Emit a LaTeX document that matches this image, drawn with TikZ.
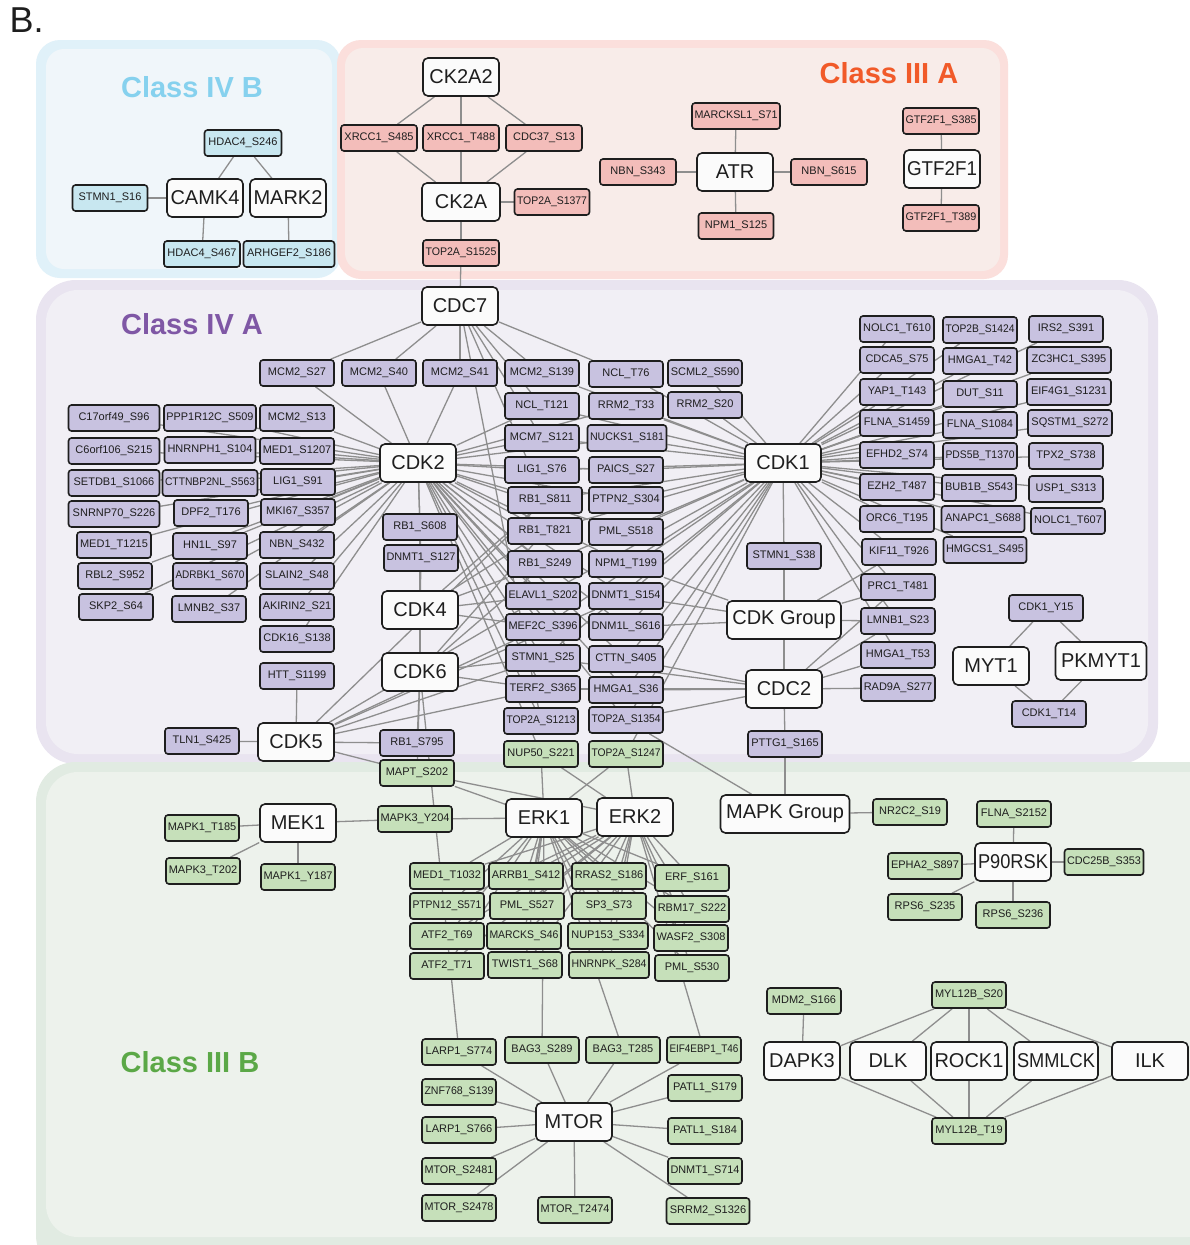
\documentclass[tikz,border=0pt]{standalone}
\usepackage{fontspec}
\setmainfont{Liberation Sans}
\usepackage{graphicx}
\definecolor{bord}{HTML}{1E1E1E}
\definecolor{edgec}{HTML}{8E8E8E}
\definecolor{cB}{HTML}{C8E7F0}
\definecolor{cP}{HTML}{F3BDBA}
\definecolor{cL}{HTML}{C8C2E0}
\definecolor{cG}{HTML}{C6E0BA}
\definecolor{kfill}{HTML}{FBFBFB}
\definecolor{bO}{HTML}{E0F1F9}\definecolor{bI}{HTML}{F0F6FA}
\definecolor{pO}{HTML}{FBDFDC}\definecolor{pI}{HTML}{F8ECE9}
\definecolor{lO}{HTML}{E9E4F0}\definecolor{lI}{HTML}{F1EFF5}
\definecolor{gO}{HTML}{E1EBE2}\definecolor{gI}{HTML}{EDF2EC}
\definecolor{tB}{HTML}{86D1EE}\definecolor{tP}{HTML}{F15A29}
\definecolor{tL}{HTML}{7F57A5}\definecolor{tG}{HTML}{5BA847}
\newsavebox\fitbox
\newlength\fitw
\newcommand\fit[2]{\fitw=\dimexpr#1\relax\sbox\fitbox{#2}\ifdim\wd\fitbox>\fitw\resizebox{\fitw}{\height}{\usebox\fitbox}\else\usebox\fitbox\fi}
\newcommand\sn[5][74]{\node[sub,fill=#2,minimum width=#1pt] (#3) at (#4,#5) {\fit{#1pt-5pt}{\detokenize{#3}}};}
\newcommand\kn[5][76]{\node[kin,minimum width=#1pt] (#2) at (#3,#4) {\fit{#1pt-6pt}{#5}};}
\pgfdeclarelayer{bg}\pgfdeclarelayer{edges}
\pgfsetlayers{bg,edges,main}
\tikzset{
 sub/.style={draw=bord,line width=1.6pt,rounded corners=3pt,minimum height=26pt,inner sep=0pt,font=\fontsize{11}{12}\selectfont,text=bord},
 kin/.style={draw=bord,fill=kfill,line width=1.6pt,rounded corners=5pt,minimum height=38pt,inner sep=0pt,font=\fontsize{20}{22}\selectfont,text=bord},
 edge/.style={draw=edgec,line width=1.3pt},
 cls/.style={font=\bfseries\fontsize{29}{30}\selectfont}
}
\begin{document}
\begin{tikzpicture}[x=1pt,y=-1pt]
\useasboundingbox (0,0) rectangle (1189,1245);
\clip (0,0) rectangle (1189,1245);
\begin{pgfonlayer}{bg}
\fill[white] (0,0) rectangle (1189,1245);
\fill[lO,rounded corners=40pt] (36,280) rectangle (1158,764);
\fill[lI,rounded corners=32pt] (46,290) rectangle (1148,754);
\fill[gO,rounded corners=40pt] (36,762) rectangle (1230,1275);
\fill[gI,rounded corners=32pt] (46,772) rectangle (1220,1237);
\fill[bO,rounded corners=24pt] (36,40) rectangle (341,278);
\fill[bI,rounded corners=18pt] (46,49) rectangle (332,269);
\fill[pO,rounded corners=24pt] (337,40) rectangle (1008,279);
\fill[pI,rounded corners=18pt] (345,48) rectangle (1000,271);
\end{pgfonlayer}
\node[anchor=west,text=bord,font=\fontsize{36}{36}\selectfont] (title) at (6,20) {B.};
\node[cls,text=tB] (lblIVB) at (192,87) {Class IV B};
\node[cls,text=tP] (lblIIIA) at (889,73) {Class III A};
\node[cls,text=tL] (lblIVA) at (192,324) {Class IV A};
\node[cls,text=tG] (lblIIIB) at (190,1062) {Class III B};
% kinases
\kn{CK2A2}{461}{77}{CK2A2}
\kn[78]{CK2A}{461}{202}{CK2A}
\kn{ATR}{735}{172}{ATR}
\kn{GTF2F1}{942}{169}{GTF2F1}
\kn{CAMK4}{205}{198}{CAMK4}
\kn{MARK2}{288}{198}{MARK2}
\kn{CDC7}{460}{306}{CDC7}
\kn{CDK2}{418}{463}{CDK2}
\kn{CDK1}{783}{463}{CDK1}
\kn{CDK4}{420}{610}{CDK4}
\kn{CDK6}{420}{672}{CDK6}
\kn{CDK5}{296}{742}{CDK5}
\kn[114]{CDKG}{784}{620}{CDK Group}
\kn{CDC2}{784}{689}{CDC2}
\kn{MYT1}{991}{666}{MYT1}
\kn[91]{PKMYT1}{1101}{661}{PKMYT1}
\kn{MEK1}{298}{823}{MEK1}
\kn{ERK1}{544}{818}{ERK1}
\kn{ERK2}{635}{817}{ERK2}
\kn[129]{MAPKG}{785}{814}{MAPK Group}
\kn{P90RSK}{1013}{862}{P90RSK}
\kn{MTOR}{574}{1122}{MTOR}
\kn{DAPK3}{802}{1061}{DAPK3}
\kn{DLK}{888}{1061}{DLK}
\kn{ROCK1}{969}{1061}{ROCK1}
\kn[84]{SMMLCK}{1056}{1061}{SMMLCK}
\kn{ILK}{1150}{1061}{ILK}
% class IV B
\sn[77]{cB}{HDAC4_S246}{243}{143}
\sn[75]{cB}{STMN1_S16}{110}{198}
\sn[76]{cB}{HDAC4_S467}{202}{254}
\sn[91]{cB}{ARHGEF2_S186}{289}{254}
% class III A
\sn[76]{cP}{XRCC1_S485}{379}{138}
\sn[76]{cP}{XRCC1_T488}{461}{138}
\sn[76]{cP}{CDC37_S13}{544}{138}
\sn[75]{cP}{TOP2A_S1377}{552}{202}
\sn[76]{cP}{TOP2A_S1525}{461}{253}
\sn[88]{cP}{MARCKSL1_S71}{736}{116}
\sn[76]{cP}{NBN_S343}{638}{172}
\sn[76]{cP}{NBN_S615}{829}{172}
\sn[75]{cP}{NPM1_S125}{736}{226}
\sn[76]{cP}{GTF2F1_S385}{941}{121}
\sn[76]{cP}{GTF2F1_T389}{941}{218}
% class IV A middle
\sn{cL}{MCM2_S27}{297}{373}
\sn{cL}{MCM2_S40}{379}{373}
\sn{cL}{MCM2_S41}{460}{373}
\sn{cL}{MCM2_S139}{542}{373}
\sn{cL}{NCL_T76}{626}{374}
\sn{cL}{SCML2_S590}{705}{373}
\sn{cL}{NCL_T121}{542}{406}
\sn{cL}{RRM2_T33}{626}{406}
\sn{cL}{RRM2_S20}{705}{405}
\sn{cL}{MCM7_S121}{542}{438}
\sn[79]{cL}{NUCKS1_S181}{627}{438}
\sn{cL}{LIG1_S76}{542}{470}
\sn{cL}{PAICS_S27}{626}{470}
\sn{cL}{RB1_S811}{545}{500}
\sn{cL}{PTPN2_S304}{626}{500}
\sn{cL}{RB1_T821}{545}{531}
\sn{cL}{PML_S518}{626}{532}
\sn{cL}{RB1_S249}{545}{564}
\sn{cL}{NPM1_T199}{626}{564}
\sn{cL}{ELAVL1_S202}{543}{596}
\sn{cL}{DNMT1_S154}{626}{596}
\sn{cL}{MEF2C_S396}{543}{627}
\sn{cL}{DNM1L_S616}{626}{627}
\sn{cL}{STMN1_S25}{543}{658}
\sn{cL}{CTTN_S405}{626}{659}
\sn{cL}{TERF2_S365}{543}{689}
\sn{cL}{HMGA1_S36}{626}{690}
\sn{cL}{TOP2A_S1213}{541}{721}
\sn{cL}{TOP2A_S1354}{626}{720}
% left
\sn[91]{cL}{C17orf49_S96}{114}{418}
\sn[92]{cL}{PPP1R12C_S509}{210}{418}
\sn{cL}{MCM2_S13}{297}{418}
\sn[91]{cL}{C6orf106_S215}{114}{451}
\sn[91]{cL}{HNRNPH1_S104}{210}{450}
\sn{cL}{MED1_S1207}{297}{451}
\sn[91]{cL}{SETDB1_S1066}{114}{483}
\sn[95]{cL}{CTTNBP2NL_S563}{210}{483}
\sn{cL}{LIG1_S91}{298}{482}
\sn[91]{cL}{SNRNP70_S226}{114}{514}
\sn{cL}{DPF2_T176}{211}{513}
\sn{cL}{MKI67_S357}{298}{512}
\sn{cL}{MED1_T1215}{114}{545}
\sn{cL}{HN1L_S97}{210}{546}
\sn{cL}{NBN_S432}{297}{545}
\sn{cL}{RBL2_S952}{115}{576}
\sn{cL}{ADRBK1_S670}{210}{576}
\sn{cL}{SLAIN2_S48}{297}{576}
\sn{cL}{SKP2_S64}{116}{607}
\sn{cL}{LMNB2_S37}{209}{609}
\sn{cL}{AKIRIN2_S21}{297}{607}
\sn{cL}{CDK16_S138}{297}{639}
\sn{cL}{HTT_S1199}{297}{676}
\sn{cL}{TLN1_S425}{202}{741}
\sn{cL}{RB1_S608}{420}{527}
\sn{cL}{DNMT1_S127}{421}{558}
\sn{cL}{RB1_S795}{417}{743}
% right
\sn{cL}{NOLC1_T610}{897}{329}
\sn{cL}{TOP2B_S1424}{980}{330}
\sn{cL}{IRS2_S391}{1066}{329}
\sn{cL}{CDCA5_S75}{897}{360}
\sn{cL}{HMGA1_T42}{980}{361}
\sn[84]{cL}{ZC3HC1_S395}{1069}{360}
\sn{cL}{YAP1_T143}{897}{392}
\sn{cL}{DUT_S11}{980}{394}
\sn[84]{cL}{EIF4G1_S1231}{1069}{392}
\sn{cL}{FLNA_S1459}{897}{423}
\sn{cL}{FLNA_S1084}{980}{425}
\sn[84]{cL}{SQSTM1_S272}{1070}{423}
\sn{cL}{EFHD2_S74}{897}{455}
\sn{cL}{PDS5B_T1370}{980}{456}
\sn{cL}{TPX2_S738}{1066}{456}
\sn{cL}{EZH2_T487}{897}{487}
\sn{cL}{BUB1B_S543}{979}{488}
\sn{cL}{USP1_S313}{1066}{489}
\sn{cL}{ORC6_T195}{897}{519}
\sn[83]{cL}{ANAPC1_S688}{983}{519}
\sn{cL}{NOLC1_T607}{1068}{521}
\sn{cL}{KIF11_T926}{899}{552}
\sn[83]{cL}{HMGCS1_S495}{985}{550}
\sn{cL}{STMN1_S38}{784}{556}
\sn{cL}{PRC1_T481}{898}{587}
\sn{cL}{LMNB1_S23}{898}{621}
\sn{cL}{HMGA1_T53}{898}{655}
\sn{cL}{RAD9A_S277}{898}{688}
\sn{cL}{CDK1_Y15}{1046}{608}
\sn{cL}{CDK1_T14}{1049}{714}
\sn{cL}{PTTG1_S165}{785}{744}
% green
\sn{cG}{NUP50_S221}{541}{754}
\sn{cG}{TOP2A_S1247}{626}{754}
\sn{cG}{MAPT_S202}{417}{773}
\sn{cG}{MAPK1_T185}{202}{828}
\sn{cG}{MAPK3_T202}{203}{871}
\sn{cG}{MAPK1_Y187}{298}{877}
\sn{cG}{MAPK3_Y204}{415}{819}
\sn{cG}{MED1_T1032}{447}{876}
\sn{cG}{ARRB1_S412}{526}{876}
\sn{cG}{RRAS2_S186}{609}{876}
\sn{cG}{ERF_S161}{692}{878}
\sn{cG}{PTPN12_S571}{447}{906}
\sn{cG}{PML_S527}{527}{906}
\sn{cG}{SP3_S73}{609}{906}
\sn{cG}{RBM17_S222}{692}{909}
\sn{cG}{ATF2_T69}{447}{936}
\sn{cG}{MARCKS_S46}{524}{936}
\sn[80]{cG}{NUP153_S334}{608}{936}
\sn{cG}{WASF2_S308}{691}{938}
\sn{cG}{ATF2_T71}{447}{966}
\sn{cG}{TWIST1_S68}{525}{965}
\sn[80]{cG}{HNRNPK_S284}{609}{965}
\sn{cG}{PML_S530}{692}{968}
\sn{cG}{NR2C2_S19}{910}{812}
\sn{cG}{FLNA_S2152}{1014}{814}
\sn{cG}{EPHA2_S897}{925}{866}
\sn[79]{cG}{CDC25B_S353}{1104}{862}
\sn{cG}{RPS6_S235}{925}{907}
\sn{cG}{RPS6_S236}{1013}{915}
\sn{cG}{MDM2_S166}{804}{1001}
\sn{cG}{MYL12B_S20}{969}{995}
\sn{cG}{MYL12B_T19}{969}{1131}
\sn{cG}{LARP1_S774}{459}{1052}
\sn{cG}{BAG3_S289}{542}{1050}
\sn{cG}{BAG3_T285}{623}{1050}
\sn{cG}{EIF4EBP1_T46}{704}{1050}
\sn{cG}{ZNF768_S139}{459}{1092}
\sn{cG}{PATL1_S179}{705}{1088}
\sn{cG}{LARP1_S766}{459}{1130}
\sn{cG}{PATL1_S184}{705}{1131}
\sn{cG}{MTOR_S2481}{459}{1171}
\sn{cG}{DNMT1_S714}{705}{1171}
\sn{cG}{MTOR_S2478}{459}{1208}
\sn{cG}{MTOR_T2474}{575}{1210}
\sn[83]{cG}{SRRM2_S1326}{708}{1211}
% edges
\begin{pgfonlayer}{edges}
\foreach \b in {HDAC4_S246,STMN1_S16,HDAC4_S467} \draw[edge] (CAMK4)--(\b);
\foreach \b in {HDAC4_S246,ARHGEF2_S186} \draw[edge] (MARK2)--(\b);
\foreach \b in {XRCC1_S485,XRCC1_T488,CDC37_S13} \draw[edge] (CK2A2)--(\b);
\foreach \b in {XRCC1_S485,XRCC1_T488,CDC37_S13,TOP2A_S1377,TOP2A_S1525} \draw[edge] (CK2A)--(\b);
\draw[edge] (TOP2A_S1525)--(CDC7);
\foreach \b in {MARCKSL1_S71,NBN_S343,NBN_S615,NPM1_S125} \draw[edge] (ATR)--(\b);
\foreach \b in {GTF2F1_S385,GTF2F1_T389} \draw[edge] (GTF2F1)--(\b);
\foreach \b in {MCM2_S27,MCM2_S40,MCM2_S41,MCM2_S139,NCL_T76,NCL_T121,MCM7_S121,RB1_S811,TOP2A_S1213} \draw[edge] (CDC7)--(\b);
\foreach \b in {C17orf49_S96,PPP1R12C_S509,MCM2_S13,C6orf106_S215,HNRNPH1_S104,MED1_S1207,SETDB1_S1066,CTTNBP2NL_S563,LIG1_S91,SNRNP70_S226,DPF2_T176,MKI67_S357,MED1_T1215,HN1L_S97,NBN_S432,RBL2_S952,ADRBK1_S670,SLAIN2_S48,SKP2_S64,LMNB2_S37,AKIRIN2_S21,CDK16_S138,MCM2_S27,MCM2_S40,MCM2_S41,RB1_S608,DNMT1_S127,NCL_T121,MCM7_S121,LIG1_S76,RB1_S811,RB1_T821,RB1_S249,ELAVL1_S202,MEF2C_S396,STMN1_S25,TERF2_S365,TOP2A_S1213,NUCKS1_S181,PAICS_S27,PTPN2_S304,PML_S518,NPM1_T199,DNMT1_S154,DNM1L_S616,CTTN_S405,HMGA1_S36,TOP2A_S1354,RRM2_T33,NUP50_S221} \draw[edge] (CDK2)--(\b);
\foreach \b in {NOLC1_T610,TOP2B_S1424,IRS2_S391,CDCA5_S75,HMGA1_T42,ZC3HC1_S395,YAP1_T143,DUT_S11,EIF4G1_S1231,FLNA_S1459,FLNA_S1084,SQSTM1_S272,EFHD2_S74,PDS5B_T1370,TPX2_S738,EZH2_T487,BUB1B_S543,USP1_S313,ORC6_T195,ANAPC1_S688,NOLC1_T607,KIF11_T926,HMGCS1_S495,MCM2_S139,NCL_T76,SCML2_S590,RRM2_S20,RRM2_T33,NCL_T121,NUCKS1_S181,MCM7_S121,PAICS_S27,LIG1_S76,PTPN2_S304,RB1_S811,PML_S518,RB1_T821,NPM1_T199,RB1_S249,DNMT1_S154,ELAVL1_S202,DNM1L_S616,MEF2C_S396,CTTN_S405,HMGA1_S36,STMN1_S25,TOP2A_S1354,STMN1_S38,PRC1_T481,LMNB1_S23,HMGA1_T53,TOP2A_S1247} \draw[edge] (CDK1)--(\b);
\foreach \b in {KIF11_T926,PRC1_T481,LMNB1_S23,STMN1_S38,DNMT1_S154,DNM1L_S616,NPM1_T199} \draw[edge] (CDKG)--(\b);
\foreach \b in {STMN1_S38,PTTG1_S165,HMGA1_T53,RAD9A_S277,LMNB1_S23,PRC1_T481,CTTN_S405,HMGA1_S36,TOP2A_S1354,TERF2_S365,STMN1_S25} \draw[edge] (CDC2)--(\b);
\draw[edge] (PTTG1_S165)--(MAPKG);
\foreach \a/\b in {MYT1/CDK1_Y15,MYT1/CDK1_T14,PKMYT1/CDK1_Y15,PKMYT1/CDK1_T14} \draw[edge] (\a)--(\b);
\foreach \b in {RB1_S608,DNMT1_S127,RB1_S811,RB1_T821,RB1_S249,ELAVL1_S202,MEF2C_S396} \draw[edge] (CDK4)--(\b);
\foreach \b in {RB1_S608,RB1_S795,MAPT_S202,RB1_T821,RB1_S249,STMN1_S25,TERF2_S365,LARP1_S774} \draw[edge] (CDK6)--(\b);
\foreach \b in {HTT_S1199,TLN1_S425,RB1_S795,MAPT_S202,MEF2C_S396,STMN1_S25,ELAVL1_S202,TERF2_S365,DNMT1_S154,RB1_S811} \draw[edge] (CDK5)--(\b);
\foreach \b in {MAPK1_T185,MAPK3_T202,MAPK1_Y187,MAPK3_Y204} \draw[edge] (MEK1)--(\b);
\foreach \b in {MAPK3_Y204,MAPT_S202,NUP50_S221,TOP2A_S1247,MED1_T1032,ARRB1_S412,RRAS2_S186,ERF_S161,PTPN12_S571,PML_S527,SP3_S73,RBM17_S222,ATF2_T69,MARCKS_S46,NUP153_S334,WASF2_S308,ATF2_T71,TWIST1_S68,HNRNPK_S284,PML_S530,BAG3_S289,BAG3_T285} \draw[edge] (ERK1)--(\b);
\foreach \b in {MAPT_S202,NUP50_S221,TOP2A_S1247,MED1_T1032,ARRB1_S412,RRAS2_S186,ERF_S161,PTPN12_S571,PML_S527,SP3_S73,RBM17_S222,ATF2_T69,MARCKS_S46,NUP153_S334,WASF2_S308,ATF2_T71,TWIST1_S68,HNRNPK_S284,PML_S530,EIF4EBP1_T46} \draw[edge] (ERK2)--(\b);
\foreach \b in {NR2C2_S19,TOP2A_S1354} \draw[edge] (MAPKG)--(\b);
\foreach \b in {FLNA_S2152,EPHA2_S897,CDC25B_S353,RPS6_S235,RPS6_S236} \draw[edge] (P90RSK)--(\b);
\foreach \b in {LARP1_S774,BAG3_S289,BAG3_T285,EIF4EBP1_T46,ZNF768_S139,PATL1_S179,LARP1_S766,PATL1_S184,MTOR_S2481,DNMT1_S714,MTOR_S2478,MTOR_T2474,SRRM2_S1326} \draw[edge] (MTOR)--(\b);
\foreach \b in {MDM2_S166,MYL12B_S20,MYL12B_T19} \draw[edge] (DAPK3)--(\b);
\foreach \a in {DLK,ROCK1,SMMLCK,ILK} {\draw[edge] (\a)--(MYL12B_S20); \draw[edge] (\a)--(MYL12B_T19);}
\end{pgfonlayer}
\end{tikzpicture}
\end{document}
